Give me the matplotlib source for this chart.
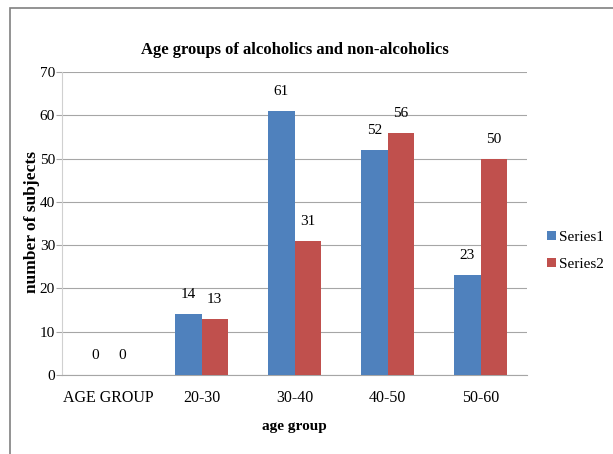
import numpy as np
import matplotlib.pyplot as plt
from matplotlib.patches import Rectangle

# data
categories = ['AGE GROUP', '20-30', '30-40', '40-50', '50-60']
series1 = [0, 14, 61, 52, 23]
series2 = [0, 13, 31, 56, 50]

plt.rcParams['font.family'] = ['Liberation Serif', 'DejaVu Serif']

fig = plt.figure(figsize=(6.13, 4.54), dpi=100)
ax = fig.add_axes([62 / 613, 1 - 375 / 454, 465 / 613, 303 / 454])

# outer frame
fig.patches.append(Rectangle((10 / 613, -0.1), 1.2, 1 - 8 / 454 + 0.1,
                             transform=fig.transFigure, fill=False,
                             edgecolor='#808080', linewidth=1.2))

x = np.arange(len(categories))
w = 0.285
b1 = ax.bar(x - w / 2, series1, w, color='#4F81BD', label='Series1', zorder=3)
b2 = ax.bar(x + w / 2, series2, w, color='#C0504D', label='Series2', zorder=3)

for bars in (b1, b2):
    for r in bars:
        ax.text(r.get_x() + r.get_width() / 2, r.get_height() + 3,
                str(int(r.get_height())), ha='center', va='bottom', fontsize=11)

ax.set_xlim(-0.5, len(categories) - 0.5)
ax.set_ylim(0, 70)
ax.set_yticks(range(0, 71, 10))
ax.yaxis.grid(True, color='#A6A6A6', linewidth=0.8, zorder=0)
ax.set_xticks(x)
ax.set_xticklabels(categories, fontsize=11.5)
ax.tick_params(axis='x', length=0, pad=11)
ax.tick_params(axis='y', labelsize=11, length=4, color='#A6A6A6', pad=1)

for s in ('top', 'right'):
    ax.spines[s].set_visible(False)
ax.spines['left'].set_color('#D0D0D0')
ax.spines['bottom'].set_color('#A6A6A6')

ax.set_title('Age groups of alcoholics and non-alcoholics', fontsize=12,
             fontweight='bold', pad=13)
ax.set_xlabel('age group', fontsize=11, fontweight='bold', labelpad=10)
ax.set_ylabel('number of subjects', fontsize=12.5, fontweight='bold')
ax.yaxis.set_label_coords(-0.048, 0.505)

ax.legend(loc='center left', bbox_to_anchor=(1.0, 0.41), frameon=False,
          fontsize=11, handlelength=0.6, handleheight=0.6, handletextpad=0.2,
          labelspacing=0.9, borderaxespad=0.9)

fig.savefig('out.png', dpi=100)
